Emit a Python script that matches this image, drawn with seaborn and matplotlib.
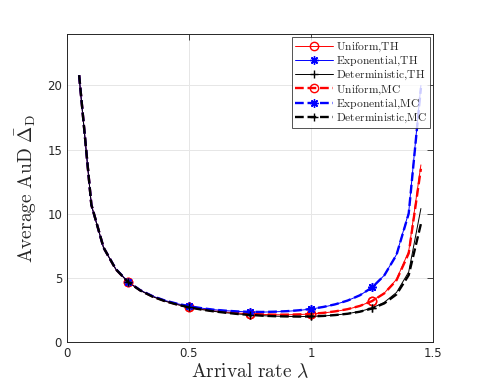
import numpy as np
import pandas as pd
import matplotlib
matplotlib.use("Agg")
import matplotlib.pyplot as plt
import seaborn as sns

# Arrival rates
lam = [0.05, 0.10, 0.15, 0.20, 0.25, 0.30, 0.35, 0.40, 0.45, 0.50,
       0.55, 0.60, 0.65, 0.70, 0.75, 0.80, 0.85, 0.90, 0.95, 1.00,
       1.05, 1.10, 1.15, 1.20, 1.25, 1.30, 1.35, 1.40, 1.45]

# Theory curves
uni_th = [20.67, 10.67, 7.34, 5.67, 4.68, 4.02, 3.55, 3.20, 2.93, 2.72,
          2.56, 2.42, 2.32, 2.24, 2.18, 2.14, 2.11, 2.11, 2.13, 2.17,
          2.25, 2.37, 2.54, 2.80, 3.19, 3.80, 4.87, 7.05, 13.8]
exp_th = [20.67, 10.67, 7.34, 5.68, 4.69, 4.03, 3.57, 3.23, 2.98, 2.78,
          2.63, 2.51, 2.43, 2.37, 2.33, 2.32, 2.34, 2.38, 2.45, 2.56,
          2.71, 2.92, 3.22, 3.63, 4.24, 5.19, 6.81, 10.09, 20.0]
det_th = [20.67, 10.67, 7.34, 5.67, 4.67, 4.01, 3.53, 3.18, 2.91, 2.69,
          2.52, 2.38, 2.27, 2.17, 2.10, 2.04, 2.00, 1.98, 1.97, 1.98,
          2.02, 2.09, 2.20, 2.37, 2.64, 3.08, 3.85, 5.45, 10.4]

# Monte Carlo curves
uni_mc = [20.80, 10.70, 7.35, 5.66, 4.68, 4.02, 3.55, 3.20, 2.93, 2.72,
          2.56, 2.42, 2.32, 2.24, 2.18, 2.14, 2.12, 2.12, 2.14, 2.18,
          2.26, 2.38, 2.55, 2.80, 3.18, 3.78, 4.80, 6.90, 13.5]
exp_mc = [20.80, 10.70, 7.35, 5.68, 4.69, 4.03, 3.57, 3.23, 2.98, 2.78,
          2.63, 2.51, 2.43, 2.37, 2.34, 2.33, 2.35, 2.39, 2.46, 2.57,
          2.72, 2.93, 3.22, 3.63, 4.24, 5.18, 6.78, 10.0, 19.8]
det_mc = [20.80, 10.70, 7.35, 5.67, 4.67, 4.01, 3.53, 3.18, 2.91, 2.69,
          2.52, 2.38, 2.27, 2.17, 2.10, 2.04, 2.00, 1.98, 1.97, 1.98,
          2.02, 2.09, 2.19, 2.35, 2.60, 3.00, 3.70, 5.20, 9.2]

ASTERISK = (8, 2, 0)
series = [
    (r"$\mathrm{Uniform{,}TH}$", uni_th, "red", "o", "-", 0.7),
    (r"$\mathrm{Exponential{,}TH}$", exp_th, "blue", ASTERISK, "-", 0.7),
    (r"$\mathrm{Deterministic{,}TH}$", det_th, "black", "+", "-", 0.7),
    (r"$\mathrm{Uniform{,}MC}$", uni_mc, "red", "o", "--", 1.7),
    (r"$\mathrm{Exponential{,}MC}$", exp_mc, "blue", ASTERISK, "--", 1.7),
    (r"$\mathrm{Deterministic{,}MC}$", det_mc, "black", "+", "--", 1.7),
]

sns.set_style("whitegrid")
plt.rcParams["mathtext.fontset"] = "cm"

fig = plt.figure(figsize=(4.85, 3.88), dpi=100)
ax = fig.add_axes([0.138, 0.119, 0.755, 0.793])

for name, vals, col, mk, ls, lw in series:
    df = pd.DataFrame({"lam": lam, "aud": vals})
    kw = {}
    if ls == "--":
        kw["dashes"] = (2.4, 1.6)
    sns.lineplot(data=df, x="lam", y="aud", ax=ax, color=col, linestyle=ls,
                 linewidth=lw, marker=mk, markevery=(4, 5), markersize=6,
                 markerfacecolor="none", markeredgecolor=col,
                 markeredgewidth=1.0, label=name, **kw)

ax.set_xlim(0, 1.5)
ax.set_ylim(0, 24)
ax.set_xticks([0, 0.5, 1, 1.5])
ax.set_xticklabels(["0", "0.5", "1", "1.5"])
ax.set_yticks([0, 5, 10, 15, 20])
ax.grid(True, color="#e6e6e6", linewidth=0.7)
ax.tick_params(direction="in", length=4, top=True, right=True,
               labelsize=8.5, colors="#262626", width=0.6)
for sp in ax.spines.values():
    sp.set_color("#262626")
    sp.set_linewidth(0.7)

ax.set_xlabel(r"$\mathrm{Arrival\ rate}\ \lambda$", fontsize=14, labelpad=2)
ax.set_ylabel(r"$\mathrm{Average\ AuD}\ \bar{\Delta}_{\rm D}$", fontsize=14,
              labelpad=6)

leg = ax.legend(loc="upper right", fontsize=8.3,
                frameon=True, fancybox=False, edgecolor="#262626",
                handlelength=3.3, borderaxespad=0.25, labelspacing=0.0,
                borderpad=0.25, handletextpad=0.3)
leg.get_frame().set_linewidth(0.7)

fig.savefig("out.png", dpi=100)
